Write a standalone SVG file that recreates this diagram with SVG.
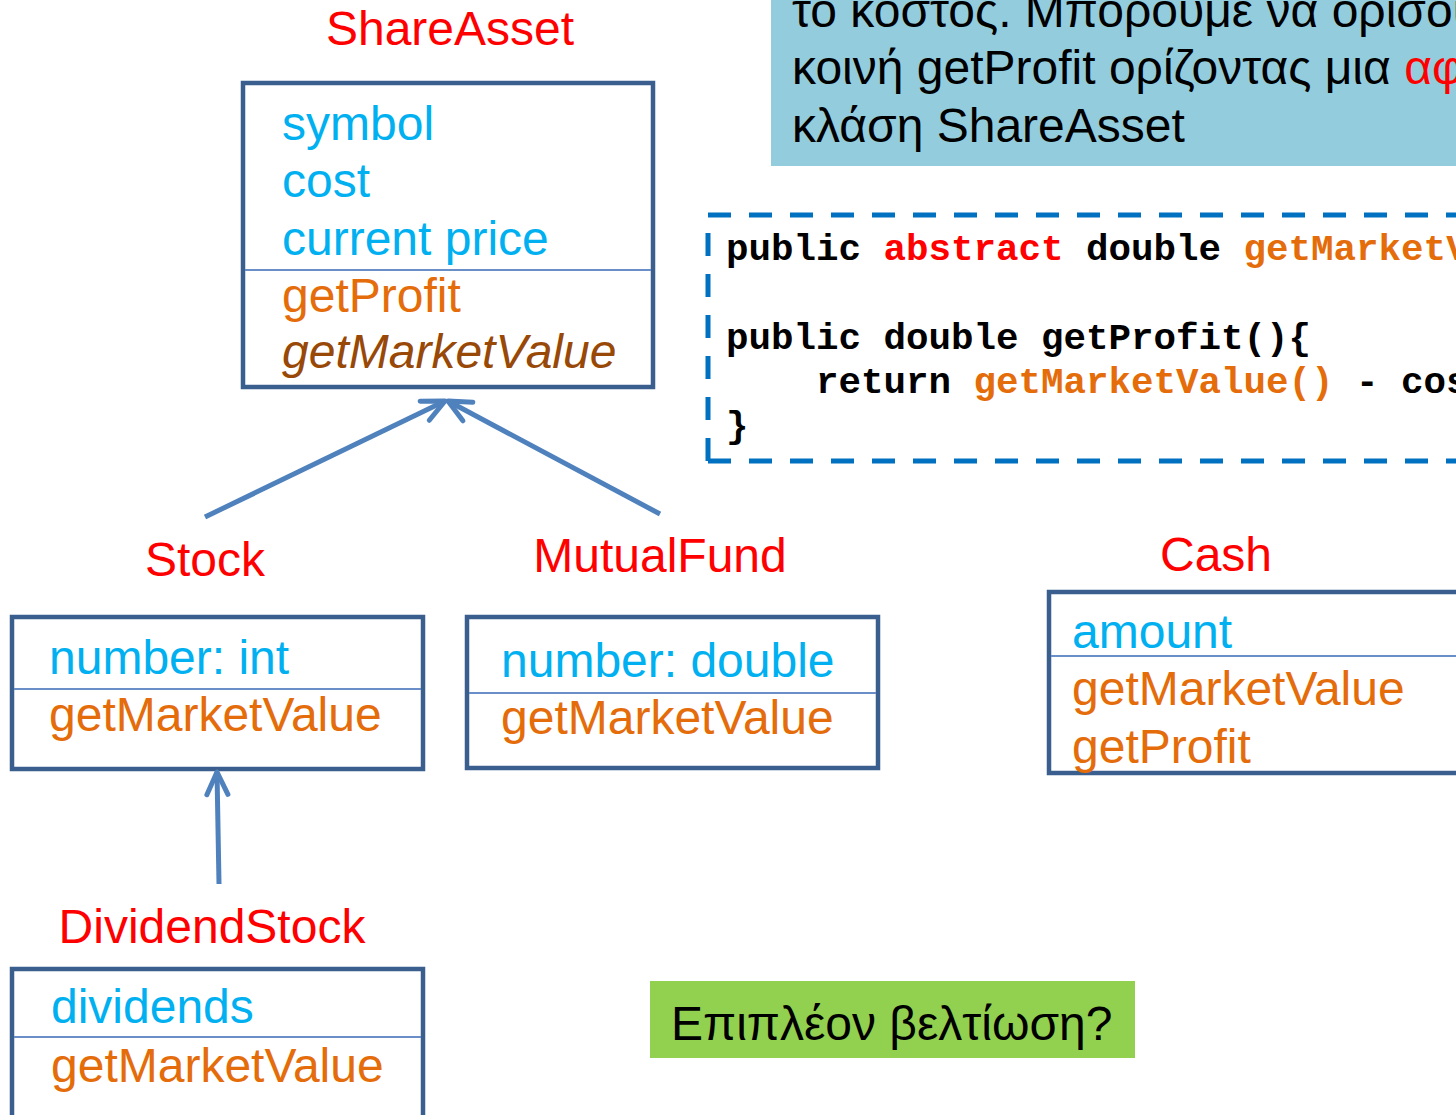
<svg xmlns="http://www.w3.org/2000/svg" width="1456" height="1115" viewBox="0 0 1456 1115">
<style>
text{font-family:"Liberation Sans",Arial,sans-serif;font-size:48px}
.title{fill:#FF0000;text-anchor:middle}
.attr{fill:#00B0F0}
.meth{fill:#E46C0A}
.abs{fill:#984807;font-style:italic}
.box{fill:#FFFFFF;stroke:#3A5F8F;stroke-width:4.5}
.div{stroke:#6A8FC8;stroke-width:2}
.note{fill:#000000}
.code{font-family:"Liberation Mono","Courier New",monospace;font-size:37.5px;font-weight:bold;fill:#000000}
.red{fill:#FF0000}
.org{fill:#E46C0A}
.edge{stroke:#4F81BD;stroke-width:5;fill:none}
</style>
<defs>
<marker id="open" markerUnits="userSpaceOnUse" orient="auto" refX="0" refY="0" markerWidth="40" markerHeight="40" viewBox="-30 -20 40 40" overflow="visible">
<path d="M -22.5 -10.5 L 0 0 L -22.5 10.5" fill="none" stroke="#4F81BD" stroke-width="5" stroke-linecap="round" stroke-linejoin="round"/>
</marker>
</defs>
<rect width="1456" height="1115" fill="#FFFFFF"/>

<g id="note-top">
<rect x="771" y="-5" width="700" height="171" fill="#93CDDD"/>
<text class="note" x="792" y="27">το κοστος. Μπορουμε να ορισου</text>
<text class="note" x="792" y="84">κοινή getProfit ορίζοντας μια <tspan class="red">αφ</tspan></text>
<text class="note" x="792" y="142">κλάση ShareAsset</text>
</g>

<g id="code">
<path d="M 708 461 L 708 215 L 1480 215" fill="none" stroke="#0070C0" stroke-width="5" stroke-dasharray="23 18"/>
<path d="M 708 461 L 1480 461" fill="none" stroke="#0070C0" stroke-width="5" stroke-dasharray="23 18"/>
<text class="code" x="726" y="260">public <tspan class="red">abstract</tspan> double <tspan class="org">getMarketV</tspan></text>
<text class="code" x="726" y="349">public double getProfit(){</text>
<text class="code" x="816" y="393">return <tspan class="org">getMarketValue()</tspan> - cos</text>
<text class="code" x="726" y="437">}</text>
</g>

<g id="ShareAsset">
<text class="title" x="450" y="45">ShareAsset</text>
<rect class="box" x="243" y="83" width="410" height="304"/>
<line class="div" x1="245" y1="270" x2="651" y2="270"/>
<text class="attr" x="282" y="140">symbol</text>
<text class="attr" x="282" y="197">cost</text>
<text class="attr" x="282" y="255">current price</text>
<text class="meth" x="282" y="312">getProfit</text>
<text class="abs" x="282" y="368">getMarketValue</text>
</g>

<g id="Stock">
<text class="title" x="205" y="576">Stock</text>
<rect class="box" x="12" y="617" width="411" height="152"/>
<line class="div" x1="14" y1="689" x2="421" y2="689"/>
<text class="attr" x="49" y="674">number: int</text>
<text class="meth" x="49" y="731">getMarketValue</text>
</g>

<g id="MutualFund">
<text class="title" x="660" y="572">MutualFund</text>
<rect class="box" x="467" y="617" width="411" height="151"/>
<line class="div" x1="469" y1="693" x2="876" y2="693"/>
<text class="attr" x="501" y="677">number: double</text>
<text class="meth" x="501" y="734">getMarketValue</text>
</g>

<g id="Cash">
<text class="title" x="1216" y="571">Cash</text>
<rect class="box" x="1049" y="592" width="420" height="181"/>
<line class="div" x1="1051" y1="656" x2="1456" y2="656"/>
<text class="attr" x="1072" y="648">amount</text>
<text class="meth" x="1072" y="705">getMarketValue</text>
<text class="meth" x="1072" y="763">getProfit</text>
</g>

<g id="DividendStock">
<text class="title" x="212" y="943">DividendStock</text>
<rect class="box" x="12" y="969" width="411" height="160"/>
<line class="div" x1="14" y1="1037" x2="421" y2="1037"/>
<text class="attr" x="51" y="1023">dividends</text>
<text class="meth" x="51" y="1082">getMarketValue</text>
</g>

<g id="note-bottom">
<rect x="650" y="981" width="485" height="77" fill="#92D050"/>
<text class="note" x="671" y="1040">Επιπλέον βελτίωση?</text>
</g>

<g id="connectors">
<line class="edge" x1="205" y1="517" x2="445" y2="401" marker-end="url(#open)"/>
<line class="edge" x1="660" y1="514" x2="448" y2="401" marker-end="url(#open)"/>
<line class="edge" x1="219" y1="884" x2="217" y2="772" marker-end="url(#open)"/>
</g>
</svg>
